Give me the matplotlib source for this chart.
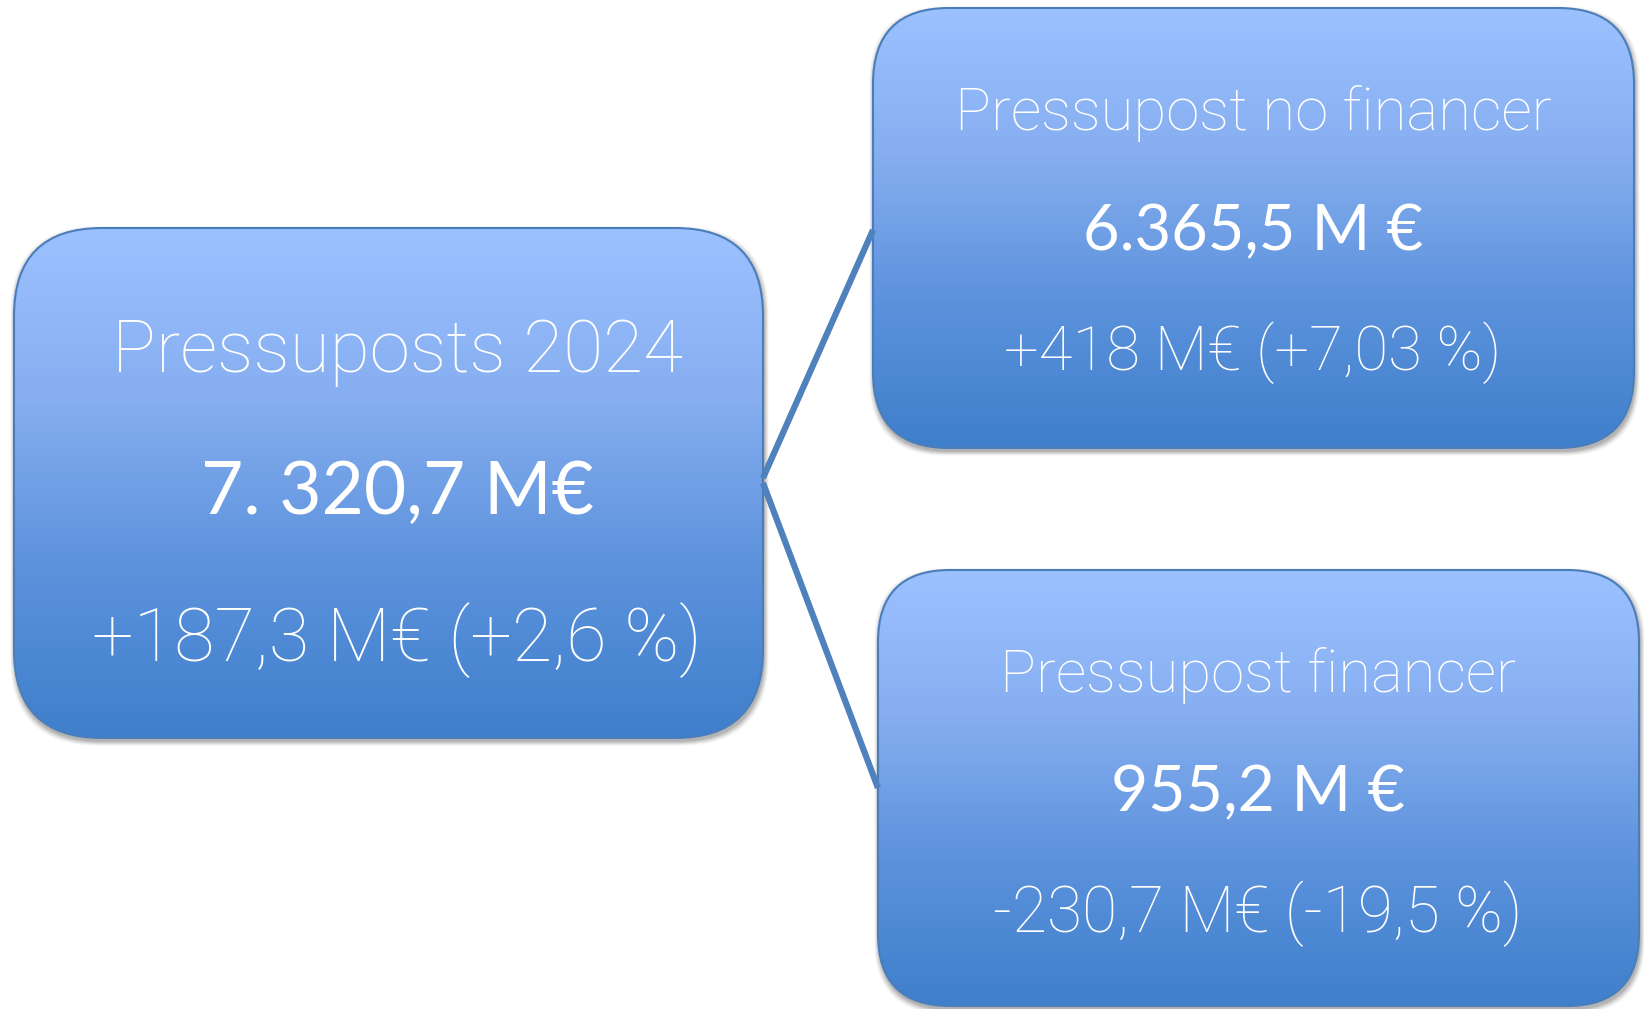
import matplotlib
matplotlib.use("Agg")
import matplotlib.pyplot as plt
import numpy as np
from matplotlib.patches import FancyBboxPatch
from matplotlib.colors import LinearSegmentedColormap

# box texts
titles = ["Pressuposts 2024", "Pressupost no financer", "Pressupost financer"]
amounts = ["7. 320,7 M€", "6.365,5 M €", "955,2 M €"]
changes = ["+187,3 M€ (+2,6 %)", "+418 M€ (+7,03 %)", "-230,7 M€ (-19,5 %)"]

W, H = 1644, 1009
LIGHT_FONT = ["Roboto", "DejaVu Sans"]
MID_FONT = ["Lato", "DejaVu Sans"]

# layout in pixels: x0, y0 (top), x1, y1 (bottom), corner radius
boxes = [
    (14, 228, 763, 738, 88),
    (873, 8, 1634, 448, 76),
    (878, 570, 1639, 1006, 72),
]
# text centres (x, y) and target widths per line
text_x = [397, 1253, 1258]
text_y = [(352, 494, 640), (114, 232, 353), (675, 793, 914)]
text_w = [(570, 393, 608), (596, 341, 496), (515, 294, 528)]
connectors = [((763, 478), (873, 230)), ((763, 483), (878, 788))]

grad = LinearSegmentedColormap.from_list("box", ["#9cc1ff", "#86aef0", "#5c92dc", "#3f7fcc"])

fig = plt.figure(figsize=(W / 100, H / 100), dpi=100)
ax = fig.add_axes([0, 0, 1, 1])
ax.set_xlim(0, W)
ax.set_ylim(H, 0)
ax.axis("off")

for (x0, y0, x1, y1, r) in boxes:
    # soft shadow
    for k, a in zip(range(6, 0, -1), [0.03, 0.04, 0.05, 0.06, 0.07, 0.08]):
        sh = FancyBboxPatch((x0 + 1, y0 + 3), x1 - x0, y1 - y0,
                            boxstyle=f"round,pad={k * 0.8},rounding_size={r}",
                            facecolor="black", edgecolor="none", alpha=a, zorder=1)
        ax.add_patch(sh)
    patch = FancyBboxPatch((x0, y0), x1 - x0, y1 - y0,
                           boxstyle=f"round,pad=0,rounding_size={r}",
                           facecolor="none", edgecolor="#4a7ebb", linewidth=1.5, zorder=3)
    ax.add_patch(patch)
    img = ax.imshow(np.linspace(0, 1, 256).reshape(-1, 1), cmap=grad, aspect="auto",
                    extent=(x0, x1, y1, y0), origin="upper", zorder=2, interpolation="bilinear")
    img.set_clip_path(patch)

for (p, q) in connectors:
    ax.plot([p[0], q[0]], [p[1], q[1]], color="#4f81bd", linewidth=4.5,
            solid_capstyle="butt", zorder=4)

ax.set_xlim(0, W)
ax.set_ylim(H, 0)

renderer = fig.canvas.get_renderer()
for i in range(len(titles)):
    lines = [titles[i], amounts[i], changes[i]]
    fonts = [LIGHT_FONT, MID_FONT, LIGHT_FONT]
    weights = ["light", "normal", "light"]
    for j, s in enumerate(lines):
        t = ax.text(text_x[i], text_y[i][j], s, ha="center", va="center",
                    color="white", fontsize=40, family=fonts[j], fontweight=weights[j], zorder=5)
        w = t.get_window_extent(renderer=renderer).width
        t.set_fontsize(40 * text_w[i][j] / w)

fig.savefig("out.png", dpi=100)
